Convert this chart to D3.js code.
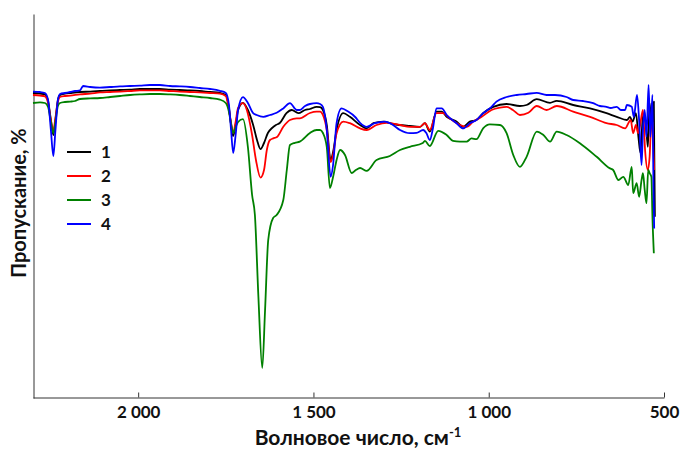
<!DOCTYPE html>
<html>
<head>
<meta charset="utf-8">
<script src="https://cdn.jsdelivr.net/npm/d3@7"></script>
<style>
  html, body { margin: 0; padding: 0; background: #fff; }
  svg { display: block; font-family: Lato, "Open Sans", sans-serif; }
</style>
</head>
<body>
<svg id="chart" width="683" height="450"></svg>
<script>
// IR spectra: [wavenumber, transmittance]
const series1 = [
  [2300,76.25],[2280,76.1],[2266,75.9],[2257,74.25],[2249,69.5],[2242,65.75],[2236,69.5],[2229,74.5],[2223,75.75],
  [2209,76.1],[2194,76.25],[2166,76.5],[2137,76.6],[2109,76.75],[2080,76.9],[2052,77],[2023,77.1],[1995,77.25],
  [1966,77.25],[1938,77.25],[1909,77.1],[1881,77],[1852,76.9],[1824,76.75],[1795,76.5],[1767,76.3],[1750,75.75],
  [1741,72.5],[1735,68.25],[1729,65.5],[1722,68.25],[1715,72],[1701,73.8],[1687,72],[1672,68.25],[1661,64.5],
  [1651,62.2],[1641,63.75],[1630,66.25],[1618,67.5],[1607,68.25],[1596,68.75],[1577,71.2],[1562,72],[1543,71.2],
  [1524,72],[1510,72.25],[1491,72.8],[1481,72.7],[1473,72],[1462,68.25],[1451,59.5],[1444,61.5],[1434,67],
  [1415,71.2],[1396,70.3],[1367,68.25],[1348,67.4],[1329,68.7],[1301,69.1],[1273,68.5],[1225,68],[1196,67.8],
  [1182,68.7],[1168,66.6],[1149,71.6],[1134,71.6],[1120,70.3],[1092,69.1],[1073,67.8],[1054,69.1],[1035,69.5],
  [1016,71.2],[987,72.8],[949,73.5],[911,73],[892,73.25],[863,74.7],[825,73.8],[806,74.3],[759,73.25],[711,72.4],
  [664,71.2],[635,70.3],[606,69.5],[597,70.3],[590,69.1],[580,71.2],[573,65.3],[567,61.2],[560,70.75],[552,68.7],
  [546,62.8],[541,73.7],[535,67.8],[529,74.1],[526,45.3]
];
const series2 = [
  [2300,75.75],[2280,75.6],[2266,75.4],[2257,73.75],[2249,69.5],[2242,66.75],[2236,70],[2229,74],[2223,75.25],
  [2209,75.5],[2194,75.6],[2166,75.9],[2137,76.1],[2109,76.4],[2080,76.5],[2052,76.6],[2023,76.75],[1995,76.9],
  [1966,76.9],[1938,76.9],[1909,76.75],[1881,76.6],[1852,76.5],[1824,76.4],[1795,76.25],[1767,76.1],[1750,75.5],
  [1741,72],[1735,68.75],[1729,66.25],[1722,69],[1715,72.5],[1701,73.7],[1690,72],[1675,65.75],[1664,59.5],
  [1651,55.1],[1641,57],[1633,62],[1624,64.5],[1615,64.9],[1604,65.25],[1586,67.8],[1567,69.5],[1548,69.9],
  [1539,69.9],[1510,71.25],[1491,71.6],[1481,71.6],[1473,70.75],[1462,67],[1451,59],[1444,60.75],[1434,66.2],
  [1415,69.1],[1396,68.7],[1367,67.4],[1348,67],[1320,68.25],[1291,68.8],[1253,68.25],[1225,67.8],[1196,67.8],
  [1182,68.7],[1168,67],[1149,71.2],[1130,71.2],[1111,69.9],[1082,68.25],[1063,67.8],[1044,69.1],[1020,70.3],
  [992,72],[968,72.6],[949,72.8],[931,72],[911,70.75],[887,71.3],[863,73],[835,72],[806,73],[759,71.6],[711,70.3],
  [664,68.7],[635,68.25],[611,67.4],[595,69.5],[588,66.2],[580,68.25],[574,66.2],[569,67.8],[560,72],[554,62],
  [546,57],[541,60.3],[535,72],[532,65.3],[528,57]
];
const series3 = [
  [2300,73.75],[2280,73.9],[2266,73.75],[2257,72.75],[2249,69],[2242,66.25],[2236,69],[2229,73],[2223,73.75],
  [2209,74],[2194,74.1],[2180,74.25],[2166,74.75],[2137,74.9],[2109,75],[2080,75.25],[2052,75.5],[2023,75.75],
  [1995,75.9],[1966,76],[1938,76],[1909,75.9],[1881,75.75],[1852,75.5],[1824,75.25],[1795,75],[1767,74.6],
  [1750,73.75],[1741,71.5],[1735,68.5],[1729,66.25],[1722,67.75],[1715,69],[1701,69.7],[1687,62.75],[1675,50.75],
  [1667,45.75],[1657,25.25],[1646,7.5],[1638,22],[1629,39.5],[1615,45],[1605,45.75],[1586,49.5],[1576,57],
  [1567,63.25],[1553,63.8],[1539,64.1],[1510,66.25],[1491,67],[1481,67],[1473,66.25],[1462,62.8],[1453,52.5],
  [1444,55.25],[1434,59.5],[1424,62],[1410,60.75],[1391,56.25],[1379,57],[1367,57.5],[1348,56.8],[1320,59.5],
  [1282,60.5],[1253,62],[1225,62.8],[1188,63.75],[1182,64.3],[1168,63],[1144,66.8],[1120,65.75],[1102,64.3],
  [1082,64.1],[1063,64.1],[1049,64.9],[1035,64.7],[1016,67.4],[997,68.4],[968,68.25],[949,66.2],[930,60.75],
  [911,57.8],[892,60.3],[863,66.6],[844,65.75],[825,64.1],[806,66.6],[778,65.75],[740,63.7],[692,60.3],
  [654,57.4],[645,57],[630,54.5],[616,55.3],[602,53.25],[592,57.8],[588,51.2],[578,53.7],[571,50.3],[564,54.5],
  [560,56.2],[555,52],[550,48.7],[545,57],[541,56.2],[536,55.3],[533,45.3],[529,36.2]
];
const series4 = [
  [2300,76.6],[2280,76.5],[2266,76.25],[2257,74.5],[2249,67],[2242,60.5],[2236,67],[2229,74.5],[2223,76],
  [2209,76.25],[2194,76.5],[2180,76.75],[2166,76.9],[2157,78],[2137,77.75],[2109,77.6],[2080,77.75],[2052,77.9],
  [2023,78],[1995,78.1],[1966,78.25],[1938,78.25],[1909,78],[1881,77.9],[1852,77.75],[1824,77.5],[1795,77.25],
  [1767,76.8],[1750,76.25],[1741,73.25],[1735,67],[1729,61.25],[1722,65.75],[1715,72],[1701,75.2],[1687,73.75],
  [1672,71.2],[1662,70.75],[1643,70.3],[1624,70.75],[1605,71.3],[1586,72.4],[1567,73.7],[1548,72],[1539,72],
  [1524,73],[1510,73.5],[1491,73.7],[1481,73.5],[1473,72.8],[1462,67],[1451,55.3],[1444,58.25],[1434,68.7],
  [1420,72.4],[1401,71.6],[1381,70.25],[1367,68.8],[1348,67.8],[1325,68.7],[1296,69.1],[1273,68.25],[1253,67],
  [1225,66.2],[1206,66.3],[1187,67],[1178,66.25],[1168,64.5],[1159,67.5],[1149,72.4],[1134,72.4],[1120,70.75],
  [1111,70],[1092,68.7],[1073,67.4],[1054,68.7],[1035,69.5],[1016,71.2],[992,72.8],[978,74.1],[949,75.25],
  [920,75.75],[892,76],[863,76.3],[835,75.75],[811,75.75],[778,75.25],[759,74.5],[731,74.25],[702,73.7],[683,73],
  [664,72.8],[652,72.5],[635,72.8],[623,72],[611,72],[606,73.25],[592,72.8],[586,70.3],[577,75.75],[571,69.5],
  [564,58.25],[560,67],[555,72],[550,65.3],[544,78.25],[539,65.3],[533,75.75],[530,52.8],[528,42.4]
];
const seriesNames = ["1", "2", "3", "4"];
const seriesColors = ["#000000", "#ff0000", "#008000", "#0000ff"];
const xTickValues = [2000, 1500, 1000, 500];
const xTitle = "Волновое число, см";
const yTitle = "Пропускание, %";

const svg = d3.select("#chart");
const x = d3.scaleLinear().domain([2300, 500]).range([33, 664]);
const y = d3.scaleLinear().domain([0, 96]).range([398, 14]);

const fmt = d3.formatLocale({ decimal: ",", thousands: "\u00a0", grouping: [3], currency: ["", ""] }).format(",d");

// bottom axis with inward ticks
const gx = svg.append("g").attr("transform", "translate(0,397.5)")
  .call(d3.axisBottom(x).tickValues(xTickValues).tickSizeInner(-5).tickSizeOuter(0).tickPadding(8).tickFormat(fmt));
gx.select(".domain").attr("stroke", "#333");
gx.selectAll(".tick line").attr("stroke", "#333");
gx.selectAll(".tick text").attr("font-family", "Lato, sans-serif").attr("font-weight", "bold")
  .attr("font-size", 17).attr("fill", "#111");

// left axis, plain line
const gy = svg.append("g").attr("transform", "translate(33.5,0)")
  .call(d3.axisLeft(y).tickValues([]).tickSizeOuter(0));
gy.select(".domain").attr("stroke", "#333");

// spectra
const line = d3.line().x(d => x(d[0])).y(d => y(d[1])).curve(d3.curveMonotoneX);
const allSeries = [series1, series2, series3, series4];
svg.append("g").selectAll("path").data(allSeries).join("path")
  .attr("d", d => line(d))
  .attr("fill", "none")
  .attr("stroke", (d, i) => seriesColors[i])
  .attr("stroke-width", 1.8)
  .attr("stroke-linejoin", "round");

// legend
const legend = svg.append("g");
seriesNames.forEach((name, i) => {
  const ly = 152 + i * 24;
  legend.append("line").attr("x1", 67).attr("x2", 91).attr("y1", ly).attr("y2", ly)
    .attr("stroke", seriesColors[i]).attr("stroke-width", 2);
  legend.append("text").attr("x", 101).attr("y", ly).attr("dy", "0.36em")
    .attr("font-weight", "bold").attr("font-size", 17).attr("fill", "#111").text(name);
});

// axis titles
const xt = svg.append("text").attr("x", 358).attr("y", 445).attr("text-anchor", "middle")
  .attr("font-weight", "bold").attr("font-size", 21).attr("fill", "#111");
xt.append("tspan").text(xTitle);
xt.append("tspan").attr("dy", -8).attr("font-size", 13).text("-1");

svg.append("text").attr("transform", "translate(26,203) rotate(-90)").attr("text-anchor", "middle")
  .attr("font-weight", "bold").attr("font-size", 20).attr("fill", "#111").text(yTitle);
</script>
</body>
</html>
